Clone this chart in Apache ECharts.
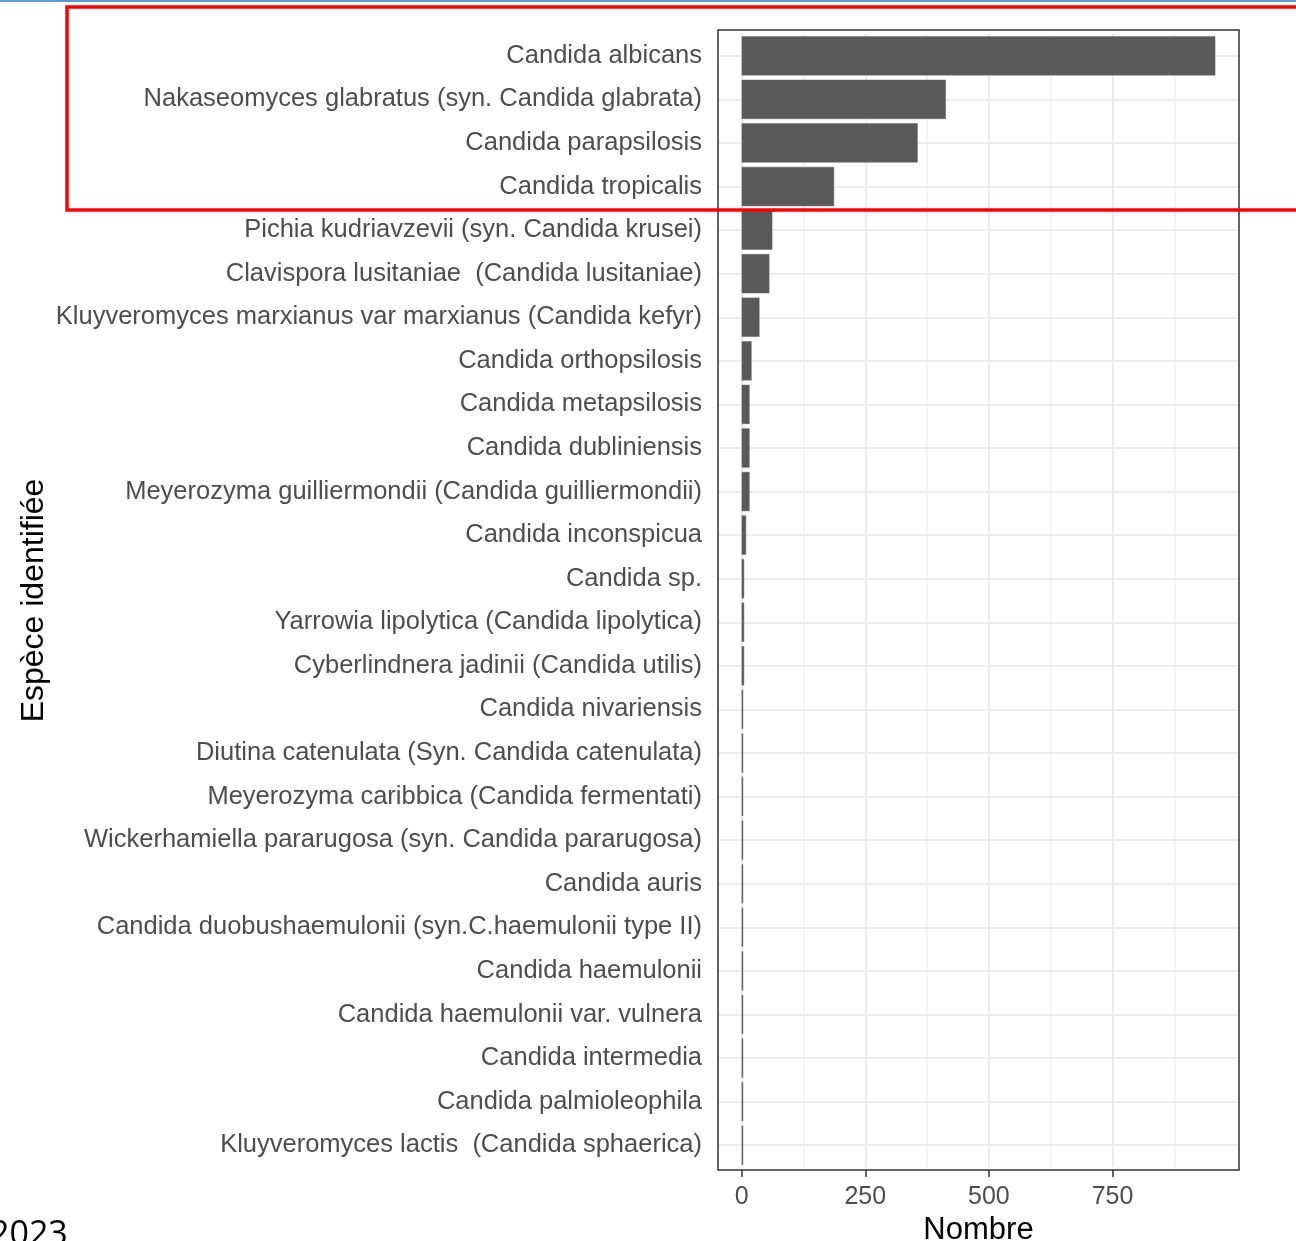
<!DOCTYPE html>
<html>
<head>
<meta charset="utf-8">
<script src="https://cdn.jsdelivr.net/npm/echarts@6/dist/echarts.min.js"></script>
<style>
html,body{margin:0;padding:0;background:#fff;}
#chart{width:1296px;height:1241px;}
</style>
</head>
<body>
<div id="chart"></div>
<script>
const categories = [
  'Candida albicans',
  'Nakaseomyces glabratus (syn. Candida glabrata)',
  'Candida parapsilosis',
  'Candida tropicalis',
  'Pichia kudriavzevii (syn. Candida krusei)',
  'Clavispora lusitaniae  (Candida lusitaniae)',
  'Kluyveromyces marxianus var marxianus (Candida kefyr)',
  'Candida orthopsilosis',
  'Candida metapsilosis',
  'Candida dubliniensis',
  'Meyerozyma guilliermondii (Candida guilliermondii)',
  'Candida inconspicua',
  'Candida sp.',
  'Yarrowia lipolytica (Candida lipolytica)',
  'Cyberlindnera jadinii (Candida utilis)',
  'Candida nivariensis',
  'Diutina catenulata (Syn. Candida catenulata)',
  'Meyerozyma caribbica (Candida fermentati)',
  'Wickerhamiella pararugosa (syn. Candida pararugosa)',
  'Candida auris',
  'Candida duobushaemulonii (syn.C.haemulonii type II)',
  'Candida haemulonii',
  'Candida haemulonii var. vulnera',
  'Candida intermedia',
  'Candida palmioleophila',
  'Kluyveromyces lactis  (Candida sphaerica)'
];
const counts = [958, 413, 356, 187, 62, 56, 36, 20, 16, 16, 16, 9, 5, 5, 5, 2, 2, 2, 2, 2, 1, 1, 1, 1, 1, 1];
const xTicks = [0, 250, 500, 750];
const xMinorTicks = [125, 375, 625, 875];
const xTitle = 'Nombre';
const yTitle = 'Espèce identifiée';
const cornerText = '2023';

const dataMax = Math.max(...counts);
const xMin = -0.05 * dataMax;
const xMax = 1.05 * dataMax;

const font = '"Liberation Sans", Arial, sans-serif';
const chart = echarts.init(document.getElementById('chart'), null, {renderer: 'canvas'});

const gridLines = [];
xTicks.forEach(v => gridLines.push({xAxis: v, lineStyle: {color: '#ebebeb', width: 2, type: 'solid'}}));
xMinorTicks.forEach(v => gridLines.push({xAxis: v, lineStyle: {color: '#f1f1f1', width: 1.5, type: 'solid'}}));
categories.forEach(c => gridLines.push({yAxis: c, lineStyle: {color: '#ebebeb', width: 2, type: 'solid'}}));

chart.setOption({
  animation: false,
  backgroundColor: '#ffffff',
  grid: {left: 718, right: 57, top: 34, bottom: 74, containLabel: false, outerBoundsMode: 'none'},
  xAxis: {
    type: 'value',
    min: xMin,
    max: xMax,
    offset: 3,
    axisLine: {show: false},
    axisTick: {show: true, length: 7, customValues: xTicks, lineStyle: {color: '#333333', width: 1.5}},
    axisLabel: {customValues: xTicks, color: '#4d4d4d', fontSize: 25, fontFamily: font, margin: 15},
    splitLine: {show: false},
    name: xTitle,
    nameLocation: 'middle',
    nameGap: 39,
    nameTextStyle: {color: '#000000', fontSize: 31, fontFamily: font}
  },
  yAxis: {
    type: 'category',
    data: categories,
    inverse: true,
    axisLine: {show: false},
    axisTick: {show: true, alignWithLabel: true, length: 8, lineStyle: {color: '#333333', width: 1.5}},
    axisLabel: {color: '#4d4d4d', fontSize: 25.5, fontFamily: font, margin: 16, padding: [4, 0, 0, 0]},
    splitLine: {show: false},
    name: yTitle,
    nameLocation: 'middle',
    nameRotate: 90,
    nameGap: 668,
    nameTextStyle: {color: '#000000', fontSize: 32, fontFamily: font}
  },
  series: [
    {
      type: 'line',
      data: [],
      silent: true,
      z: 1,
      markLine: {
        silent: true,
        symbol: ['none', 'none'],
        z: 1,
        label: {show: false},
        animation: false,
        data: gridLines
      }
    },
    {
      type: 'bar',
      data: counts,
      z: 3,
      barCategoryGap: '10%',
      barMinHeight: 1.5,
      itemStyle: {color: '#595959', borderColor: '#6a6a6a', borderWidth: 0.5},
      silent: true
    }
  ],
  graphic: [
    {type: 'rect', z: 10, silent: true, shape: {x: 718, y: 30, width: 521, height: 1140},
     style: {fill: 'none', stroke: '#333333', lineWidth: 1.5}},
    {type: 'line', z: 10, silent: true, shape: {x1: 0, y1: 1, x2: 1296, y2: 1},
     style: {stroke: '#5b9bd5', lineWidth: 2}},
    {type: 'rect', z: 11, silent: true, shape: {x: 67, y: 7, width: 1250, height: 203},
     style: {fill: 'none', stroke: '#ff0000', lineWidth: 3.5}},
    {type: 'text', z: 10, silent: true, x: -10, y: 1218,
     style: {text: cornerText, fill: '#000000', fontSize: 34, fontFamily: '"Open Sans", sans-serif', verticalAlign: 'top', align: 'left'}}
  ]
});
</script>
</body>
</html>
